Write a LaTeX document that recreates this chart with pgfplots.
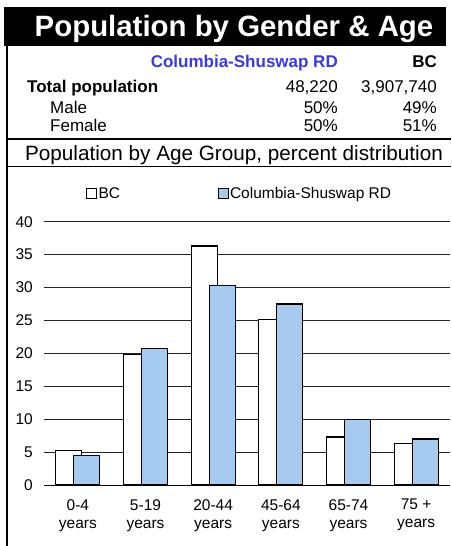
\documentclass[border=0pt]{standalone}
\usepackage{fontspec}
\setmainfont{Liberation Sans}
\usepackage{pgfplots}
\pgfplotsset{compat=1.18}
\definecolor{barblue}{RGB}{166,202,240}
\definecolor{hdrblue}{RGB}{60,60,210}
\begin{document}
\begin{tikzpicture}[x=1pt,y=1pt]
\path[use as bounding box] (0,0) rectangle (451,546);
\fill[black] (4,539) rectangle (446,500);
\node[anchor=base, text=white, font=\fontsize{29.4}{32}\selectfont\bfseries, inner sep=0] at (234,509) {Population by Gender \& Age};
\draw[line width=1.5pt] (7,500) -- (7,0);
\begin{scope}[every node/.style={inner sep=0, font=\fontsize{17}{20}\selectfont}]
\node[anchor=base east, font=\fontsize{17}{20}\selectfont\bfseries, text=hdrblue] at (338,478) {Columbia-Shuswap RD};
\node[anchor=base east, font=\fontsize{17}{20}\selectfont\bfseries] at (437,478) {BC};
\node[anchor=base west, font=\fontsize{17}{20}\selectfont\bfseries] at (27,453) {Total population};
\node[anchor=base east] at (338,453) {48,220};
\node[anchor=base east] at (437,453) {3,907,740};
\node[anchor=base west] at (50,432.5) {Male};
\node[anchor=base east] at (338,432.5) {50\%};
\node[anchor=base east] at (437,432.5) {49\%};
\node[anchor=base west] at (50,414) {Female};
\node[anchor=base east] at (338,414) {50\%};
\node[anchor=base east] at (437,414) {51\%};
\end{scope}
\draw[line width=2pt] (7,407) -- (451,407);
\node[anchor=base, inner sep=0, font=\fontsize{20.7}{24}\selectfont] at (234,385) {Population by Age Group, percent distribution};
\draw[line width=1pt] (7,379.5) -- (451,379.5);
\begin{axis}[
  at={(44pt,61pt)}, anchor=south west,
  scale only axis, width=406pt, height=263.3pt,
  xmin=-0.5, xmax=5.5, ymin=0, ymax=40,
  xtick={0,1,2,3,4,5},
  xticklabels={{0-4\\years},{5-19\\years},{20-44\\years},{45-64\\years},{65-74\\years},{75 +\\years}},
  ytick={0,5,...,40},
  axis lines*=left,
  y axis line style={draw=none},
  x axis line style={line width=1pt, black},
  major tick length=0pt,
  ymajorgrids, grid style={black!85, line width=0.8pt},
  /pgf/number format/assume math mode=true,
  tick label style={font=\fontsize{15.5}{18}\selectfont},
  yticklabel style={inner sep=0pt, xshift=-11pt},
  xticklabel style={align=center, inner sep=0pt, yshift=-14pt},
  legend columns=2,
  legend image code/.code={\draw[#1,/tikz/.cd,line width=0.9pt] (0pt,-5pt) rectangle (10pt,5pt);},
  legend style={at={(0.1034,1.106)}, anchor=west, draw=none, fill=none, inner sep=0pt,
    font=\fontsize{15.5}{18}\selectfont,
    nodes={inner sep=1.5pt},
    /tikz/every even column/.append style={column sep=96pt}},
]
\addplot[ybar, bar width=26pt, bar shift=-9pt, fill=white, draw=black, line width=1.3pt]
  coordinates {(0,5.2) (1,19.8) (2,36.3) (3,25.1) (4,7.3) (5,6.3)};
\addlegendentry{BC}
\addplot[ybar, bar width=26pt, bar shift=9pt, fill=barblue, draw=black, line width=1.3pt]
  coordinates {(0,4.5) (1,20.7) (2,30.3) (3,27.5) (4,10.0) (5,7.0)};
\addlegendentry{Columbia-Shuswap RD}
\end{axis}
\end{tikzpicture}
\end{document}
